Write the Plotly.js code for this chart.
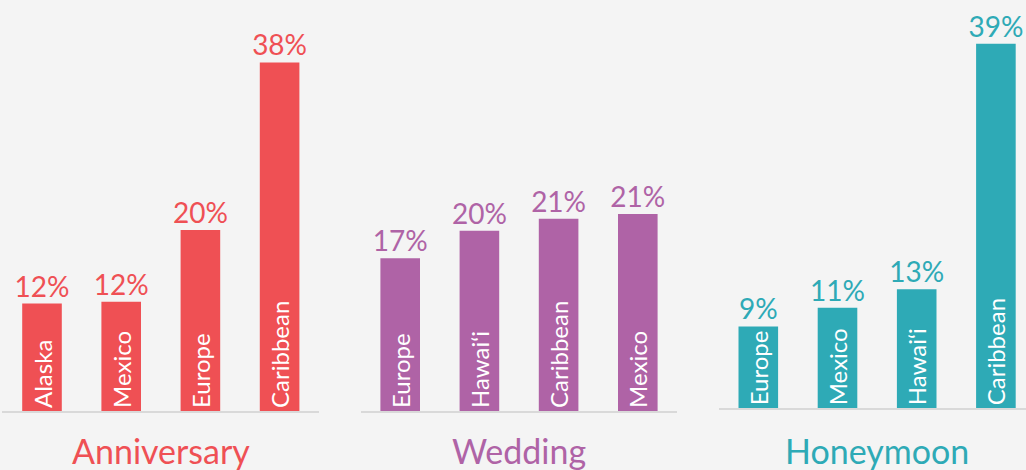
<!DOCTYPE html>
<html>
<head>
<meta charset="utf-8">
<script src="https://cdn.plot.ly/plotly-3.0.1.min.js"></script>
<style>html,body{margin:0;padding:0;background:#f4f4f4;}#chart{width:1026px;height:470px;}</style>
</head>
<body>
<div id="chart"></div>
<script>
// Data
const anniversaryCats = ["Alaska", "Mexico", "Europe", "Caribbean"];
const anniversaryVals = [11.8, 12.0, 19.9, 38.3];
const weddingCats = ["Europe", "Hawai‘i", "Caribbean", "Mexico"];
const weddingVals = [16.6, 19.6, 20.9, 21.4];
const honeymoonCats = ["Europe", "Mexico", "Hawai‘i", "Caribbean"];
const honeymoonVals = [8.8, 10.8, 12.8, 39.2];
const groupTitles = ["Anniversary", "Wedding", "Honeymoon"];
const groupColors = ["#EF5054", "#AF63A6", "#2EAAB6"];

const W = 1026, H = 470;
const FONT = "Lato, 'Open Sans', sans-serif";

const groups = [
  {cats: anniversaryCats, vals: anniversaryVals},
  {cats: weddingCats, vals: weddingVals},
  {cats: honeymoonCats, vals: honeymoonVals}
];

const traces = [];
groups.forEach((g, i) => {
  const xa = i === 0 ? "x" : "x" + (i + 1);
  const ya = i === 0 ? "y" : "y" + (i + 1);
  traces.push({
    type: "bar", x: g.cats, y: g.vals, xaxis: xa, yaxis: ya,
    width: 0.5,
    marker: {color: groupColors[i]},
    text: g.cats, textposition: "inside", insidetextanchor: "start",
    textangle: -90, constraintext: "none",
    textfont: {color: "#ffffff", size: 24, family: FONT},
    hoverinfo: "skip", showlegend: false
  });
  traces.push({
    type: "scatter", mode: "text", x: g.cats, y: g.vals, xaxis: xa, yaxis: ya,
    text: g.vals.map(v => Math.round(v) + "%"),
    textposition: "top center",
    marker: {size: 12},
    textfont: {color: groupColors[i], size: 28, family: FONT},
    cliponaxis: false, hoverinfo: "skip", showlegend: false
  });
});

function xax(d0, d1, r1) {
  return {domain: [d0 / W, d1 / W], range: [-0.5, r1], type: "category",
    showline: true, linecolor: "#d9d9d9", linewidth: 2,
    showticklabels: false, ticks: "", showgrid: false, zeroline: false, fixedrange: true};
}
function yax(base, top, anchor) {
  return {domain: [1 - base / H, 1], range: [0, top], visible: false,
    showgrid: false, zeroline: false, anchor: anchor, fixedrange: true};
}

const layout = {
  width: W, height: H,
  margin: {l: 0, r: 0, t: 0, b: 0},
  paper_bgcolor: "#f4f4f4", plot_bgcolor: "#f4f4f4",
  font: {family: FONT},
  xaxis: Object.assign(xax(2.4, 319.2, 3.5), {anchor: "y"}),
  yaxis: yax(411, 411 / 9.1, "x"),
  xaxis2: Object.assign(xax(360.6, 677.4, 3.5), {anchor: "y2"}),
  yaxis2: yax(411, 411 / 9.2, "x2"),
  xaxis3: Object.assign(xax(718.7, 1026, 3.5 - (1035.5 - 1026) / 79.2), {anchor: "y3"}),
  yaxis3: yax(408.3, 408.3 / 9.3, "x3"),
  annotations: groupTitles.map((t, i) => ({
    text: t, xref: i === 0 ? "x" : "x" + (i + 1), x: 1.5,
    yref: "paper", y: 1 - 450 / H, yanchor: "middle", xanchor: "center",
    showarrow: false, font: {size: 34, color: groupColors[i], family: FONT}
  }))
};

Plotly.newPlot("chart", traces, layout, {displayModeBar: false, staticPlot: true});
</script>
</body>
</html>
